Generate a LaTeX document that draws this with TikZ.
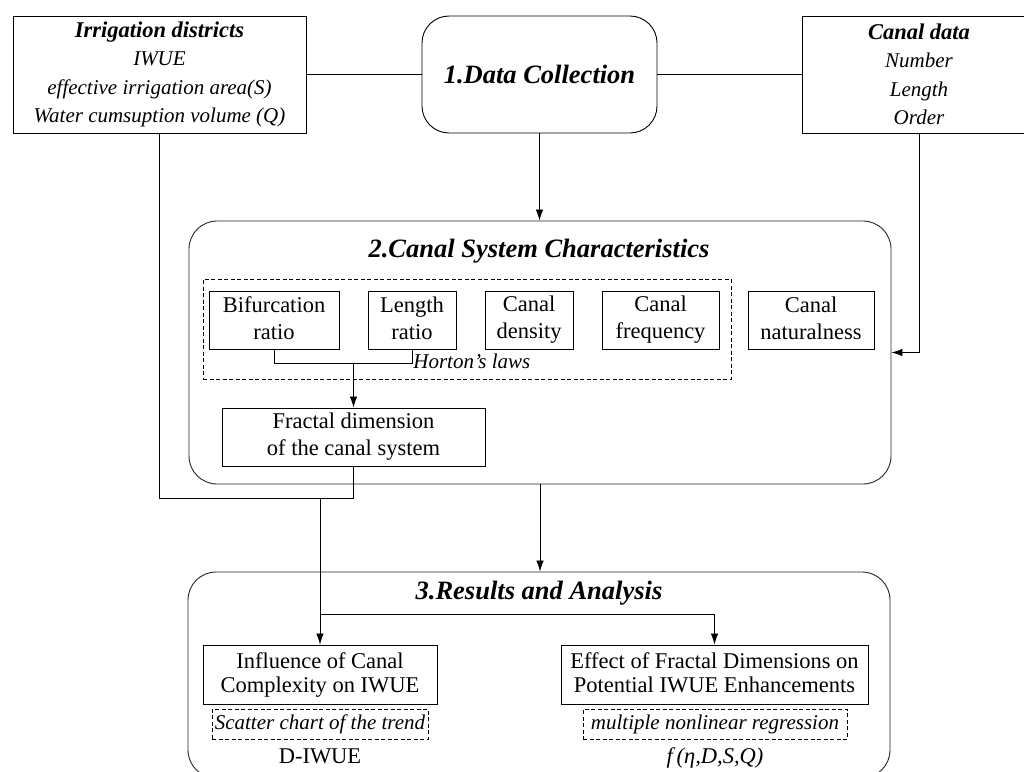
\documentclass[tikz,border=0pt]{standalone}
\usepackage{fontspec}
\setmainfont{Liberation Serif}
\usetikzlibrary{arrows.meta}
\newcommand\ttlfont{\fontsize{26.5}{30}\selectfont\bfseries\itshape}
\newcommand\bdyfont{\fontsize{22.5}{27}\selectfont}
\newcommand\lowfont{\fontsize{22.5}{24}\selectfont}
\newcommand\itlfont{\fontsize{21}{28.5}\selectfont\itshape}
\newcommand\hdfont{\fontsize{22.5}{28.5}\selectfont\bfseries\itshape}
\newcommand\mystrut{\rule[-3pt]{0pt}{20pt}}
\begin{document}
\begin{tikzpicture}[x=1pt,y=-1pt,line width=0.8pt,
  arr/.style={-{Latex[length=11pt,width=7.5pt]}},
  box/.style={draw,rectangle,inner sep=0pt,line width=0.9pt,align=center,font=\bdyfont},
  sbox/.style={box,execute at begin node=\mystrut,execute at end node=\mystrut},
  bigbox/.style={draw=black!85,rectangle,rounded corners=28pt,inner sep=0pt,line width=0.9pt},
  dbox/.style={draw,rectangle,inner sep=0pt,line width=0.7pt,dash pattern=on 4pt off 2.5pt,align=center,font=\itlfont}]
\useasboundingbox (0,0) rectangle (1024,771);

% top row
\node[box,minimum width=293pt,minimum height=117pt,font=\itlfont] (irr) at (159.5,74.5)
  {{\hdfont Irrigation districts}\\IWUE\\effective irrigation area(S)\\Water cumsuption volume (Q)};
\node[box,rounded corners=27pt,minimum width=235pt,minimum height=117pt,font=\ttlfont] (dc) at (539.5,74.5) {1.Data Collection};
\node[box,minimum width=234pt,minimum height=117pt,font=\itlfont] (cd) at (919,74.5)
  {{\hdfont Canal data}\\Number\\Length\\Order};

% box 2
\node[bigbox,minimum width=702pt,minimum height=263pt] (b2) at (540,352.5) {};
\node[font=\ttlfont,anchor=base,inner sep=0pt] (t2) at (539,257) {2.Canal System Characteristics};
\node[dbox,minimum width=528pt,minimum height=100pt] (hor) at (467,329) {};
\node[sbox,minimum width=130pt,minimum height=58pt] (bif) at (274,320) {Bifurcation\\ratio};
\node[sbox,minimum width=88pt,minimum height=58pt] (len) at (412,320) {Length\\ratio};
\node[sbox,minimum width=88pt,minimum height=58pt] (den) at (529,320) {Canal\\density};
\node[sbox,minimum width=117pt,minimum height=58pt] (fre) at (660.5,320) {Canal\\frequency};
\node[sbox,minimum width=126pt,minimum height=58pt] (nat) at (811,320) {Canal\\naturalness};
\node[sbox,minimum width=263pt,minimum height=58pt] (fr) at (353.5,437) {Fractal dimension\\of the canal system};

\coordinate (hl) at (412,363);
\draw (bif.south) |- (hl) -- (len.south);
\node[font=\itlfont,anchor=west,inner sep=1pt] (hlab) at ([yshift=2pt]hl) {Horton’s laws};
\draw[arr] (fr.north |- hl) -- (fr.north);

% box 3
\node[bigbox,minimum width=702pt,minimum height=206pt] (b3) at (539,675) {};
\node[font=\ttlfont,anchor=base,inner sep=0pt] (t3) at (539,599) {3.Results and Analysis};
\node[sbox,font=\lowfont,minimum width=234pt,minimum height=59pt] (inf) at (320,674.5) {Influence of Canal\\Complexity on IWUE};
\node[sbox,font=\lowfont,minimum width=307pt,minimum height=59pt] (eff) at (714.5,674.5) {Effect of Fractal Dimensions on\\Potential IWUE Enhancements};
\node[dbox,minimum width=216pt,minimum height=30pt] (sca) at (320,724) {Scatter chart of the trend};
\node[dbox,minimum width=264pt,minimum height=30pt] (mnr) at (715,724) {multiple nonlinear regression};
\node[font=\bdyfont,anchor=base,inner sep=0pt] (diw) at (320,763) {D-IWUE};
\node[font=\bdyfont,anchor=base,inner sep=0pt] (fx) at (715,763) {\textit{f\,(η,D,S,Q)}};

% connectors
\draw (irr.east) -- (dc.west);
\draw (dc.east) -- (cd.west);
\draw[arr] (dc.south) -- (dc.south |- b2.north);
\draw[arr] (cd.south) |- (b2.east);
\draw[arr] (b2.south) -- (b2.south |- b3.north);
\coordinate (j2) at (353.5,498);
\coordinate (j3) at (320,498);
\coordinate (j4) at (320,614);
\draw (irr.south) |- (j2);
\draw (fr.south) -- (j2);
\draw[arr] (j3) -- (inf.north);
\draw[arr] (j4) -| (eff.north);
\end{tikzpicture}
\end{document}
